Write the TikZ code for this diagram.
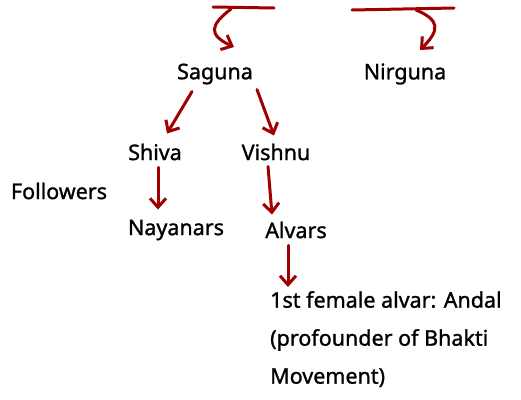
\documentclass[tikz,border=0pt]{standalone}
\usepackage{fontspec}
\newfontfamily\hand[FakeBold=1.2]{Noto Sans}
\usetikzlibrary{arrows.meta}
\definecolor{hred}{HTML}{A00000}
\tikzset{
  lbl/.style={font=\hand\fontsize{21.5}{26}\selectfont, inner sep=0pt, text=black},
  arr/.style={draw=hred, line width=3pt, line cap=round, line join=round,
    -{Straight Barb[length=9pt,width=16pt,line width=3pt]}},
  bar/.style={draw=hred, line width=3pt, line cap=round}
}
\begin{document}
\begin{tikzpicture}[x=1pt,y=-1pt]
\useasboundingbox (0,0) rectangle (521,399);
\node[lbl] (saguna) at (215,74) {Saguna};
\node[lbl] (nirguna) at (405,74) {Nirguna};
\node[lbl] (shiva) at (155,152) {Shiva};
\node[lbl] (vishnu) at (276,152) {Vishnu};
\node[lbl] (followers) at (59,191) {Followers};
\node[lbl] (nayanars) at (176,230) {Nayanars};
\node[lbl] (alvars) at (296,230) {Alvars};
\node[lbl, anchor=north west, align=left, font=\hand\fontsize{21.5}{38}\selectfont] (andal) at (270,291)
  {1st female alvar: Andal\\(profounder of Bhakti\\Movement)};
% top bars
\coordinate (b1a) at (213,7); \coordinate (b1b) at (274,8);
\coordinate (b2a) at (352,10); \coordinate (b2b) at (454,8);
\draw[bar] (b1a) -- (b1b);
\draw[bar] (b2a) -- (b2b);
\coordinate (s1) at (231,9); \coordinate (e1) at (234,47);
\coordinate (s2) at (416,10); \coordinate (e2) at (420,50);
\draw[arr] (s1) .. controls (210,25) and (208,35) .. (e1);
\draw[arr] (s2) .. controls (440,20) and (440,30) .. (e2);
% tree arrows
\draw[arr] ([shift={(-23,7)}]saguna.south) -- ([shift={(12,-10)}]shiva.north);
\draw[arr] ([shift={(42,5)}]saguna.south) -- ([shift={(-2,-8)}]vishnu.north);
\draw[arr] ([shift={(3,7)}]shiva.south) -- ([shift={(-18,-10)}]nayanars.north);
\draw[arr] ([shift={(-8,6)}]vishnu.south) -- ([shift={(-24,-7)}]alvars.north);
\draw[arr] ([shift={(-8,7)}]alvars.south) -- ([shift={(18,-4)}]andal.north west);
\end{tikzpicture}
\end{document}
